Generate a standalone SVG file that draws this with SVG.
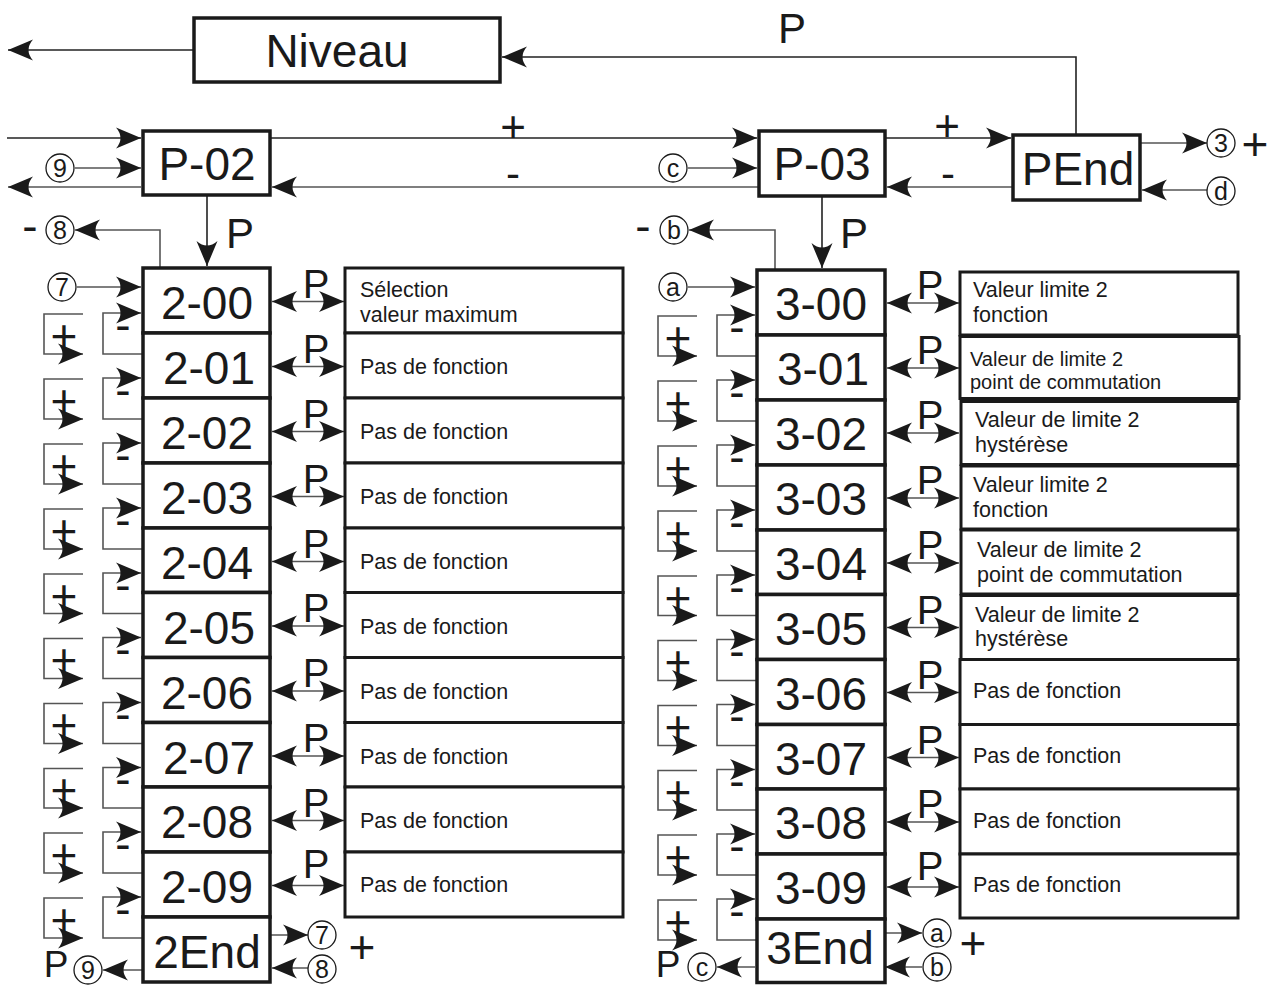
<svg xmlns="http://www.w3.org/2000/svg" width="1276" height="985" viewBox="0 0 1276 985">
<style>
text{font-family:"Liberation Sans",Arial,sans-serif;fill:#1a1a1a}
.n rect{fill:#fff;stroke:#1a1a1a;stroke-width:3.5}
.n text{font-size:46px;text-anchor:middle}
.d rect{fill:#fff;stroke:#1a1a1a;stroke-width:3}
.d text{font-size:21.5px}
.c path,.c line{fill:none;stroke:#555;stroke-width:1.6}
.c .k{stroke:#222}
.ar{marker-end:url(#a)}
.dbl{marker-end:url(#a);marker-start:url(#a)}
.lb{font-size:46px;text-anchor:middle}
.pl{font-size:40px;text-anchor:middle}
.ci circle{fill:#fff;stroke:#1a1a1a;stroke-width:1.3}
.ci text{font-size:25px;text-anchor:middle}
</style>
<defs>
<marker id="a" viewBox="-27 -12 29 24" refX="0" refY="0" markerWidth="29" markerHeight="24" markerUnits="userSpaceOnUse" orient="auto-start-reverse">
<path d="M0,0 L-25,-10.5 Q-16,0 -25,10.5 Z" fill="#1a1a1a"/>
</marker>
</defs>

<!-- connectors -->
<g class="c" id="connectors">
<line class="k ar" x1="194" y1="50" x2="8" y2="50"/>
<path class="k ar" d="M1076,135 V57 H502"/>
<line class="k ar" x1="7" y1="138" x2="141" y2="138"/>
<line class="ar" x1="75" y1="168" x2="141" y2="168"/>
<line class="ar" x1="141" y1="187" x2="8" y2="187"/>
<line class="k ar" x1="270" y1="138" x2="757" y2="138"/>
<line class="ar" x1="759" y1="187" x2="272" y2="187"/>
<line class="ar" x1="688" y1="168" x2="757" y2="168"/>
<line class="k ar" x1="885" y1="138" x2="1011" y2="138"/>
<line class="ar" x1="1017" y1="187" x2="887" y2="187"/>
<line class="ar" x1="1140" y1="143" x2="1207" y2="143"/>
<line class="ar" x1="1207" y1="190" x2="1142" y2="190"/>
<line class="k ar" x1="207" y1="196" x2="207" y2="266"/>
<line class="k ar" x1="822" y1="196" x2="822" y2="268"/>
<path class="ar" d="M160,268 V230 H75"/>
<path class="ar" d="M775,270 V230 H689"/>
<line class="ar" x1="77" y1="287" x2="141" y2="287"/>
<line class="ar" x1="688" y1="287" x2="755" y2="287"/>
<!-- left double arrows -->
<line class="dbl" x1="272" y1="301.5" x2="344" y2="301.5"/>
<line class="dbl" x1="272" y1="366.5" x2="344" y2="366.5"/>
<line class="dbl" x1="272" y1="431.5" x2="344" y2="431.5"/>
<line class="dbl" x1="272" y1="496.5" x2="344" y2="496.5"/>
<line class="dbl" x1="272" y1="561.5" x2="344" y2="561.5"/>
<line class="dbl" x1="272" y1="626" x2="344" y2="626"/>
<line class="dbl" x1="272" y1="691" x2="344" y2="691"/>
<line class="dbl" x1="272" y1="756" x2="344" y2="756"/>
<line class="dbl" x1="272" y1="820.5" x2="344" y2="820.5"/>
<line class="dbl" x1="272" y1="885.5" x2="344" y2="885.5"/>
<!-- right double arrows -->
<line class="dbl" x1="887" y1="303" x2="959" y2="303"/>
<line class="dbl" x1="887" y1="368" x2="959" y2="368"/>
<line class="dbl" x1="887" y1="433" x2="959" y2="433"/>
<line class="dbl" x1="887" y1="498" x2="959" y2="498"/>
<line class="dbl" x1="887" y1="563" x2="959" y2="563"/>
<line class="dbl" x1="887" y1="627.5" x2="959" y2="627.5"/>
<line class="dbl" x1="887" y1="692.5" x2="959" y2="692.5"/>
<line class="dbl" x1="887" y1="757.5" x2="959" y2="757.5"/>
<line class="dbl" x1="887" y1="822" x2="959" y2="822"/>
<line class="dbl" x1="887" y1="887" x2="959" y2="887"/>
<!-- left minus brackets -->
<path class="ar" d="M143,354 H103 V313 H141"/>
<path class="ar" d="M143,419 H103 V378 H141"/>
<path class="ar" d="M143,484 H103 V443 H141"/>
<path class="ar" d="M143,549 H103 V508 H141"/>
<path class="ar" d="M143,613.5 H103 V573 H141"/>
<path class="ar" d="M143,678.5 H103 V637.5 H141"/>
<path class="ar" d="M143,743.5 H103 V702.5 H141"/>
<path class="ar" d="M143,808 H103 V767.5 H141"/>
<path class="ar" d="M143,873 H103 V832 H141"/>
<path class="ar" d="M143,938 H103 V897 H141"/>
<!-- left plus brackets -->
<path class="ar" d="M83,314 H44 V354 H83"/>
<path class="ar" d="M83,379 H44 V419 H83"/>
<path class="ar" d="M83,444 H44 V484 H83"/>
<path class="ar" d="M83,509 H44 V549 H83"/>
<path class="ar" d="M83,574 H44 V613.5 H83"/>
<path class="ar" d="M83,638.5 H44 V678.5 H83"/>
<path class="ar" d="M83,703.5 H44 V743.5 H83"/>
<path class="ar" d="M83,768.5 H44 V808 H83"/>
<path class="ar" d="M83,833 H44 V873 H83"/>
<path class="ar" d="M83,898 H44 V938 H83"/>
<!-- right minus brackets -->
<path class="ar" d="M757,356 H717 V315 H755"/>
<path class="ar" d="M757,421 H717 V380 H755"/>
<path class="ar" d="M757,486 H717 V445 H755"/>
<path class="ar" d="M757,551 H717 V510 H755"/>
<path class="ar" d="M757,615.5 H717 V575 H755"/>
<path class="ar" d="M757,680.5 H717 V639.5 H755"/>
<path class="ar" d="M757,745.5 H717 V704.5 H755"/>
<path class="ar" d="M757,810 H717 V769.5 H755"/>
<path class="ar" d="M757,875 H717 V834 H755"/>
<path class="ar" d="M757,940 H717 V899 H755"/>
<!-- right plus brackets -->
<path class="ar" d="M697,316 H658 V356 H697"/>
<path class="ar" d="M697,381 H658 V421 H697"/>
<path class="ar" d="M697,446 H658 V486 H697"/>
<path class="ar" d="M697,511 H658 V551 H697"/>
<path class="ar" d="M697,576 H658 V615.5 H697"/>
<path class="ar" d="M697,640.5 H658 V680.5 H697"/>
<path class="ar" d="M697,705.5 H658 V745.5 H697"/>
<path class="ar" d="M697,770.5 H658 V810 H697"/>
<path class="ar" d="M697,835 H658 V875 H697"/>
<path class="ar" d="M697,900 H658 V940 H697"/>
<!-- bottom -->
<line class="ar" x1="270" y1="935" x2="308" y2="935"/>
<line class="ar" x1="308" y1="968" x2="272" y2="968"/>
<line class="ar" x1="143" y1="970" x2="103" y2="970"/>
<line class="ar" x1="883" y1="933" x2="922" y2="933"/>
<line class="ar" x1="922" y1="967" x2="885" y2="967"/>
<line class="ar" x1="755" y1="967" x2="717" y2="967"/>
</g>

<!-- labels -->
<g id="labels">
<text x="792" y="43" style="font-size:42px;text-anchor:middle">P</text>
<text x="513" y="142" style="font-size:44px;text-anchor:middle">+</text>
<text x="513" y="188" style="font-size:42px;text-anchor:middle">-</text>
<text x="947" y="141" style="font-size:44px;text-anchor:middle">+</text>
<text x="948" y="188" style="font-size:42px;text-anchor:middle">-</text>
<text class="lb" x="1255" y="160">+</text>
<text x="240" y="248" style="font-size:42px;text-anchor:middle">P</text>
<text x="854" y="248" style="font-size:42px;text-anchor:middle">P</text>
<text class="lb" x="30" y="242">-</text>
<text class="lb" x="643" y="242">-</text>
<text class="lb" x="362" y="963">+</text>
<text class="lb" x="973" y="959">+</text>
<text x="56" y="977" style="font-size:37px;text-anchor:middle">P</text>
<text x="668" y="977" style="font-size:37px;text-anchor:middle">P</text>
<!-- P labels left -->
<text class="pl" x="316" y="297.5">P</text>
<text class="pl" x="316" y="362.5">P</text>
<text class="pl" x="316" y="427.5">P</text>
<text class="pl" x="316" y="492.5">P</text>
<text class="pl" x="316" y="557.5">P</text>
<text class="pl" x="316" y="622">P</text>
<text class="pl" x="316" y="687">P</text>
<text class="pl" x="316" y="752">P</text>
<text class="pl" x="316" y="816.5">P</text>
<text class="pl" x="316" y="878">P</text>
<!-- P labels right -->
<text class="pl" x="930" y="299">P</text>
<text class="pl" x="930" y="364">P</text>
<text class="pl" x="930" y="429">P</text>
<text class="pl" x="930" y="494">P</text>
<text class="pl" x="930" y="559">P</text>
<text class="pl" x="930" y="623.5">P</text>
<text class="pl" x="930" y="688.5">P</text>
<text class="pl" x="930" y="753.5">P</text>
<text class="pl" x="930" y="818">P</text>
<text class="pl" x="930" y="880">P</text>
<!-- plus / minus left -->
<text class="lb" x="64" y="351.5">+</text>
<text class="lb" x="64" y="416.5">+</text>
<text class="lb" x="64" y="481.5">+</text>
<text class="lb" x="64" y="546.5">+</text>
<text class="lb" x="64" y="611.5">+</text>
<text class="lb" x="64" y="676">+</text>
<text class="lb" x="64" y="741">+</text>
<text class="lb" x="64" y="806">+</text>
<text class="lb" x="64" y="870.5">+</text>
<text class="lb" x="64" y="935.5">+</text>
<text class="lb" x="123" y="340.5">-</text>
<text class="lb" x="123" y="405.5">-</text>
<text class="lb" x="123" y="470.5">-</text>
<text class="lb" x="123" y="535.5">-</text>
<text class="lb" x="123" y="600.5">-</text>
<text class="lb" x="123" y="665">-</text>
<text class="lb" x="123" y="730">-</text>
<text class="lb" x="123" y="795">-</text>
<text class="lb" x="123" y="859.5">-</text>
<text class="lb" x="123" y="924.5">-</text>
<!-- plus / minus right -->
<text class="lb" x="678" y="353.5">+</text>
<text class="lb" x="678" y="418.5">+</text>
<text class="lb" x="678" y="483.5">+</text>
<text class="lb" x="678" y="548.5">+</text>
<text class="lb" x="678" y="613.5">+</text>
<text class="lb" x="678" y="678">+</text>
<text class="lb" x="678" y="743">+</text>
<text class="lb" x="678" y="808">+</text>
<text class="lb" x="678" y="872.5">+</text>
<text class="lb" x="678" y="937.5">+</text>
<text class="lb" x="737" y="342.5">-</text>
<text class="lb" x="737" y="407.5">-</text>
<text class="lb" x="737" y="472.5">-</text>
<text class="lb" x="737" y="537.5">-</text>
<text class="lb" x="737" y="602.5">-</text>
<text class="lb" x="737" y="667">-</text>
<text class="lb" x="737" y="732">-</text>
<text class="lb" x="737" y="797">-</text>
<text class="lb" x="737" y="861.5">-</text>
<text class="lb" x="737" y="926.5">-</text>
</g>

<!-- circled markers -->
<g class="ci" id="circles">
<g id="c9a"><circle cx="60" cy="168" r="14"/><text x="60" y="177">9</text></g>
<g id="c8a"><circle cx="60" cy="230" r="14"/><text x="60" y="239">8</text></g>
<g id="c7a"><circle cx="62" cy="287" r="14"/><text x="62" y="296">7</text></g>
<g id="cca"><circle cx="673" cy="168" r="14"/><text x="673" y="176.5">c</text></g>
<g id="cba"><circle cx="674" cy="230" r="14"/><text x="674" y="239">b</text></g>
<g id="caa"><circle cx="673" cy="287" r="14"/><text x="673" y="295.5">a</text></g>
<g id="c3"><circle cx="1221" cy="143" r="14"/><text x="1221" y="152">3</text></g>
<g id="cd"><circle cx="1221" cy="191" r="14"/><text x="1221" y="200">d</text></g>
<g id="c7b"><circle cx="322" cy="935" r="14"/><text x="322" y="944">7</text></g>
<g id="c8b"><circle cx="322" cy="969" r="14"/><text x="322" y="978">8</text></g>
<g id="c9b"><circle cx="88" cy="970" r="14"/><text x="88" y="979">9</text></g>
<g id="cab"><circle cx="937" cy="933" r="14"/><text x="937" y="941.5">a</text></g>
<g id="cbb"><circle cx="937" cy="967" r="14"/><text x="937" y="976">b</text></g>
<g id="ccb"><circle cx="702" cy="967" r="14"/><text x="702" y="975.5">c</text></g>
</g>

<!-- top nodes -->
<g class="n" id="niveau"><rect x="194" y="18" width="306" height="64"/><text x="337" y="67">Niveau</text></g>
<g class="n" id="p02"><rect x="143" y="131" width="127" height="64"/><text x="207" y="180">P-02</text></g>
<g class="n" id="p03"><rect x="759" y="131" width="126" height="65"/><text x="822" y="180">P-03</text></g>
<g class="n" id="pend"><rect x="1013" y="135" width="127" height="65"/><text x="1078" y="185">PEnd</text></g>

<!-- left column nodes -->
<g class="n" id="n2-00"><rect x="143" y="268" width="127" height="65"/><text x="207" y="319">2-00</text></g>
<g class="n" id="n2-01"><rect x="143" y="333" width="127" height="65"/><text x="209" y="384">2-01</text></g>
<g class="n" id="n2-02"><rect x="143" y="398" width="127" height="65"/><text x="207" y="449">2-02</text></g>
<g class="n" id="n2-03"><rect x="143" y="463" width="127" height="65"/><text x="207" y="514">2-03</text></g>
<g class="n" id="n2-04"><rect x="143" y="528" width="127" height="64.5"/><text x="207" y="579">2-04</text></g>
<g class="n" id="n2-05"><rect x="143" y="592.5" width="127" height="65"/><text x="209" y="643.5">2-05</text></g>
<g class="n" id="n2-06"><rect x="143" y="657.5" width="127" height="65"/><text x="207" y="708.5">2-06</text></g>
<g class="n" id="n2-07"><rect x="143" y="722.5" width="127" height="64.5"/><text x="209" y="773.5">2-07</text></g>
<g class="n" id="n2-08"><rect x="143" y="787" width="127" height="65"/><text x="207" y="838">2-08</text></g>
<g class="n" id="n2-09"><rect x="143" y="852" width="127" height="65"/><text x="207" y="903">2-09</text></g>
<g class="n" id="n2end"><rect x="143" y="917" width="127" height="65"/><text x="207" y="968">2End</text></g>

<!-- right column nodes -->
<g class="n" id="n3-00"><rect x="757" y="270" width="128" height="65"/><text x="821" y="320">3-00</text></g>
<g class="n" id="n3-01"><rect x="757" y="335" width="128" height="65"/><text x="823" y="385">3-01</text></g>
<g class="n" id="n3-02"><rect x="757" y="400" width="128" height="65"/><text x="821" y="450">3-02</text></g>
<g class="n" id="n3-03"><rect x="757" y="465" width="128" height="65"/><text x="821" y="515">3-03</text></g>
<g class="n" id="n3-04"><rect x="757" y="530" width="128" height="64.5"/><text x="821" y="580">3-04</text></g>
<g class="n" id="n3-05"><rect x="757" y="594.5" width="128" height="65"/><text x="821" y="644.5">3-05</text></g>
<g class="n" id="n3-06"><rect x="757" y="659.5" width="128" height="65"/><text x="821" y="709.5">3-06</text></g>
<g class="n" id="n3-07"><rect x="757" y="724.5" width="128" height="64.5"/><text x="821" y="774.5">3-07</text></g>
<g class="n" id="n3-08"><rect x="757" y="789" width="128" height="65"/><text x="821" y="839">3-08</text></g>
<g class="n" id="n3-09"><rect x="757" y="854" width="128" height="65"/><text x="821" y="904">3-09</text></g>
<g class="n" id="n3end"><rect x="757" y="919" width="128" height="63.5"/><text x="820" y="964">3End</text></g>

<!-- left descriptions -->
<g class="d" id="d2-00"><rect x="345" y="268" width="278" height="65"/><text x="360" y="297">Sélection</text><text x="360" y="322">valeur maximum</text></g>
<g class="d" id="d2-01"><rect x="345" y="333" width="278" height="65"/><text x="360" y="374">Pas de fonction</text></g>
<g class="d" id="d2-02"><rect x="345" y="398" width="278" height="65"/><text x="360" y="439">Pas de fonction</text></g>
<g class="d" id="d2-03"><rect x="345" y="463" width="278" height="65"/><text x="360" y="504">Pas de fonction</text></g>
<g class="d" id="d2-04"><rect x="345" y="528" width="278" height="64.5"/><text x="360" y="569">Pas de fonction</text></g>
<g class="d" id="d2-05"><rect x="345" y="592.5" width="278" height="65"/><text x="360" y="633.5">Pas de fonction</text></g>
<g class="d" id="d2-06"><rect x="345" y="657.5" width="278" height="65"/><text x="360" y="698.5">Pas de fonction</text></g>
<g class="d" id="d2-07"><rect x="345" y="722.5" width="278" height="64.5"/><text x="360" y="763.5">Pas de fonction</text></g>
<g class="d" id="d2-08"><rect x="345" y="787" width="278" height="65"/><text x="360" y="828">Pas de fonction</text></g>
<g class="d" id="d2-09"><rect x="345" y="852" width="278" height="65"/><text x="360" y="892">Pas de fonction</text></g>

<!-- right descriptions -->
<g class="d" id="d3-00"><rect x="960" y="272" width="278" height="63"/><text x="973" y="297">Valeur limite 2</text><text x="973" y="322">fonction</text></g>
<g class="d" id="d3-01"><rect x="960" y="336.5" width="279" height="62"/><text x="970" y="366" style="font-size:20px">Valeur de limite 2</text><text x="970" y="389" style="font-size:20px">point de commutation</text></g>
<g class="d" id="d3-02"><rect x="961" y="401.5" width="277" height="63"/><text x="975" y="427">Valeur de limite 2</text><text x="975" y="452">hystérèse</text></g>
<g class="d" id="d3-03"><rect x="961" y="466" width="277" height="63"/><text x="973" y="492">Valeur limite 2</text><text x="973" y="517">fonction</text></g>
<g class="d" id="d3-04"><rect x="961" y="530" width="277" height="64"/><text x="977" y="557">Valeur de limite 2</text><text x="977" y="582">point de commutation</text></g>
<g class="d" id="d3-05"><rect x="961" y="595.5" width="277" height="64"/><text x="975" y="622">Valeur de limite 2</text><text x="975" y="646">hystérèse</text></g>
<g class="d" id="d3-06"><rect x="960" y="659.5" width="278" height="65"/><text x="973" y="698">Pas de fonction</text></g>
<g class="d" id="d3-07"><rect x="960" y="724.5" width="278" height="64.5"/><text x="973" y="763">Pas de fonction</text></g>
<g class="d" id="d3-08"><rect x="960" y="789" width="278" height="65"/><text x="973" y="828">Pas de fonction</text></g>
<g class="d" id="d3-09"><rect x="960" y="854" width="278" height="64"/><text x="973" y="892">Pas de fonction</text></g>
</svg>
